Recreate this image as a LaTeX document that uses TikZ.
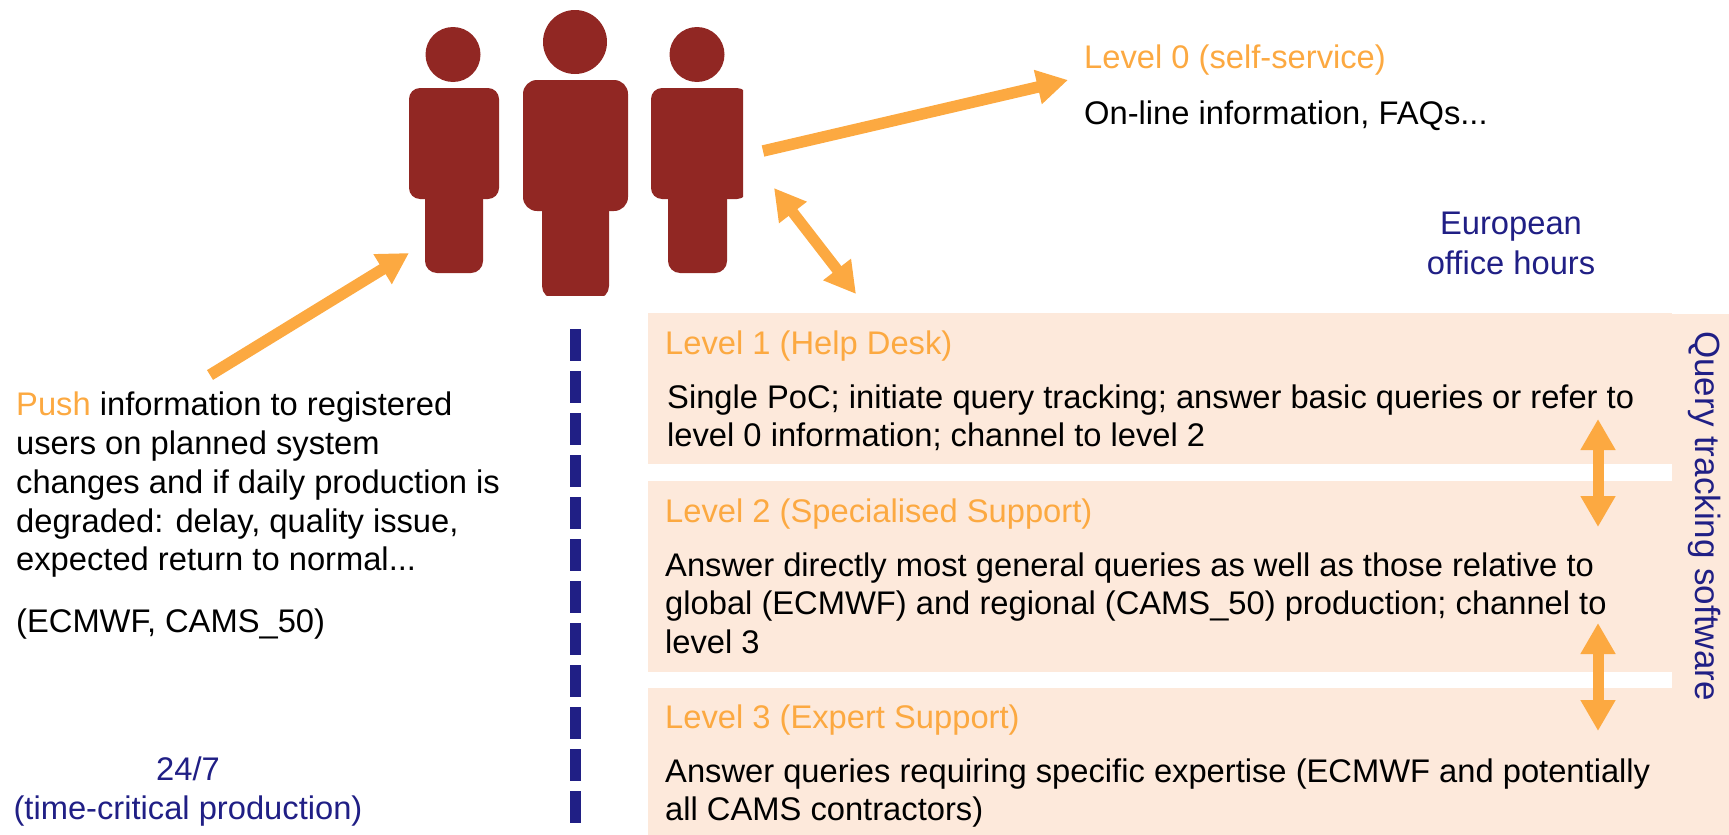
\documentclass[tikz,border=0pt]{standalone}
\usepackage{fontspec}
\setmainfont{Liberation Sans}
\usetikzlibrary{arrows.meta}
\definecolor{org}{HTML}{FCA941}
\definecolor{navy}{HTML}{201F85}
\definecolor{brick}{HTML}{912723}
\definecolor{peach}{HTML}{FDE9DB}
\tikzset{
  txt/.style={anchor=base west,inner sep=0pt,font=\fontsize{32.7}{39}\selectfont},
  lvl/.style={txt,text=org},
  blue/.style={anchor=base,inner sep=0pt,text=navy,font=\fontsize{32.7}{39}\selectfont},
  arr/.style={draw=org,line width=11.5pt,-{Triangle[length=31pt,width=33pt]}},
  dbl/.style={draw=org,line width=11pt,{Triangle[length=31pt,width=33pt]}-{Triangle[length=31pt,width=33pt]}},
  person/.style={fill=brick,draw=none}
}
\begin{document}
\begin{tikzpicture}[x=1pt,y=-1pt]
\useasboundingbox (0,0) rectangle (1729,835);
% boxes
\fill[peach] (648,313) rectangle (1672,464);
\fill[peach] (648,481) rectangle (1672,672);
\fill[peach] (648,688) rectangle (1672,835);
\fill[peach] (1672,314) rectangle (1729,835);
% people
\fill[person] (453,54.5) circle (27.5);
\fill[person,rounded corners=11pt] (409,88) rectangle (499,199);
\fill[person,rounded corners=12pt] (425,170) rectangle (483,273);
\fill[person] (575,42) circle (32);
\fill[person,rounded corners=14pt] (523,80) rectangle (628,211);
\begin{scope}
\clip (500,100) rectangle (650,295);
\fill[person,rounded corners=13pt] (542,180) rectangle (609,299);
\end{scope}
\fill[person] (697,54.5) circle (27.5);
\begin{scope}
\clip (640,80) rectangle (743,280);
\fill[person,rounded corners=11pt] (651,88) rectangle (748,199);
\end{scope}
\fill[person,rounded corners=12pt] (668,170) rectangle (727,273);
% arrow ends
\coordinate (a0s) at (763,151); \coordinate (a0e) at (1068,80);
\coordinate (a1s) at (774,188); \coordinate (a1e) at (856,294);
\coordinate (a2s) at (210,375); \coordinate (a2e) at (409,253);
\coordinate (a3s) at (1598,419); \coordinate (a3e) at (1598,527);
\coordinate (a4s) at (1598,623); \coordinate (a4e) at (1598,731);
\draw[arr] (a0s) -- (a0e);
\draw[dbl] (a1s) -- (a1e);
\draw[arr] (a2s) -- (a2e);
\draw[dbl] (a3s) -- (a3e);
\draw[dbl] (a4s) -- (a4e);
% dashed separator
\coordinate (ds) at (575.5,329); \coordinate (de) at (575.5,823);
\draw[navy,line width=11pt,dash pattern=on 32pt off 10pt] (ds) -- (de);
% texts
\node[lvl] (l0) at (1084,68) {Level 0 (self-service)};
\node[txt] (l0t) at (1084,124) {On-line information, FAQs...};
\node[blue] (eu1) at (1511,234) {European};
\node[blue] (eu2) at (1511,274) {office hours};
\node[lvl] (l1) at (665,354) {Level 1 (Help Desk)};
\node[txt] (l1a) at (667,408) {Single PoC; initiate query tracking; answer basic queries or refer to};
\node[txt] (l1b) at (667,446) {level 0 information; channel to level 2};
\node[lvl] (l2) at (665,522) {Level 2 (Specialised Support)};
\node[txt] (l2a) at (665,576) {Answer directly most general queries as well as those relative to};
\node[txt] (l2b) at (665,614) {global (ECMWF) and regional (CAMS\_50) production; channel to};
\node[txt] (l2c) at (665,653) {level 3};
\node[lvl] (l3) at (665,728) {Level 3 (Expert Support)};
\node[txt] (l3a) at (665,782) {Answer queries requiring specific expertise (ECMWF and potentially};
\node[txt] (l3b) at (665,820) {all CAMS contractors)};
\node[txt] (p1) at (16,415) {\textcolor{org}{Push} information to registered};
\node[txt] (p2) at (16,454) {users on planned system};
\node[txt] (p3) at (16,493) {changes and if daily production is};
\node[txt] (p4) at (16,532) {degraded: delay, quality issue,};
\node[txt] (p5) at (16,570) {expected return to normal...};
\node[txt] (p6) at (16,632) {(ECMWF, CAMS\_50)};
\node[blue] (h1) at (188,780) {24/7};
\node[blue] (h2) at (188,819) {(time-critical production)};
\node[blue,rotate=-90,anchor=base west,font=\fontsize{35}{42}\selectfont] (q) at (1695,331) {Query tracking software};
\end{tikzpicture}
\end{document}
